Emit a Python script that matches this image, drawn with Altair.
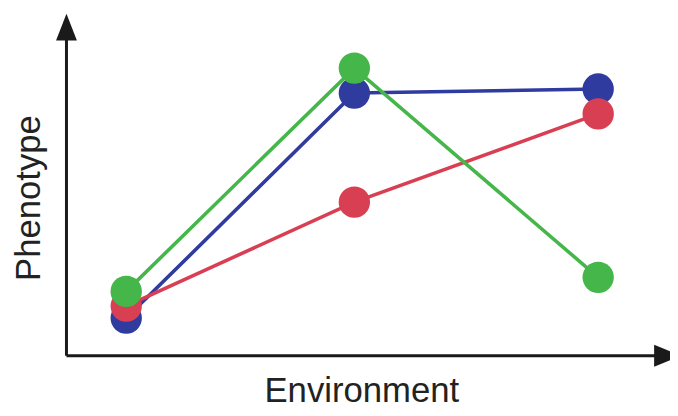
import altair as alt
import pandas as pd

# (arbitrary 0-10 units on both axes)
environment = [0.99, 4.77, 8.81]
blue_values = [1.10, 7.68, 7.80]
red_values = [1.45, 4.49, 7.07]
green_values = [1.88, 8.41, 2.29]

series_names = ["blue", "red", "green"]
series_values = [blue_values, red_values, green_values]
series_colors = ["#2f3b9f", "#d93f52", "#45b649"]

W, H = 609, 345
FONT = "Liberation Sans"

xscale = alt.Scale(domain=[0, 10], nice=False, zero=False)
yscale = alt.Scale(domain=[0, 10], nice=False, zero=False)
color_scale = alt.Scale(domain=series_names, range=series_colors)

layers = []
for name, vals in zip(series_names, series_values):
    df = pd.DataFrame({"env": environment, "value": vals, "series": name})
    base = alt.Chart(df).encode(
        x=alt.X("env:Q", scale=xscale, axis=None),
        y=alt.Y("value:Q", scale=yscale, axis=None),
        color=alt.Color("series:N", scale=color_scale, legend=None),
    )
    layers.append(base.mark_line(strokeWidth=3.6))
    layers.append(base.mark_circle(size=1000, opacity=1))

one = alt.Data(values=[{}])
axis_color = "#1a1a1a"

y_axis = alt.Chart(one).mark_rule(color=axis_color, strokeWidth=3).encode(
    x=alt.value(0), y=alt.value(24), y2=alt.value(H)
)
x_axis = alt.Chart(one).mark_rule(color=axis_color, strokeWidth=3).encode(
    x=alt.value(0), x2=alt.value(596), y=alt.value(H)
)
up_arrow = alt.Chart(one).mark_point(
    shape="M-0.78,1 L0.78,1 L0,-1 Z", filled=True, size=729,
    color=axis_color, opacity=1
).encode(x=alt.value(0), y=alt.value(13.5))
right_arrow = alt.Chart(one).mark_point(
    shape="M-1,-0.82 L1,0 L-1,0.82 Z", filled=True, size=729,
    color=axis_color, opacity=1
).encode(x=alt.value(606.5), y=alt.value(H))

x_title = alt.Chart(one).mark_text(
    text="Environment", font=FONT, fontSize=35, color="#222222",
    align="center", baseline="alphabetic"
).encode(x=alt.value(298), y=alt.value(392))
y_title = alt.Chart(one).mark_text(
    text="Phenotype", font=FONT, fontSize=35, color="#222222",
    align="center", baseline="alphabetic", angle=270
).encode(x=alt.value(-27), y=alt.value(186))

chart = alt.layer(
    y_axis, x_axis, up_arrow, right_arrow, *layers, x_title, y_title
).properties(
    width=W, height=H,
    autosize=alt.AutoSizeParams(type="none"),
    padding={"left": 59, "top": 4, "right": 0, "bottom": 51},
).configure_view(stroke=None)

chart.save("out.html", embed_options={"renderer": "svg", "actions": False})
